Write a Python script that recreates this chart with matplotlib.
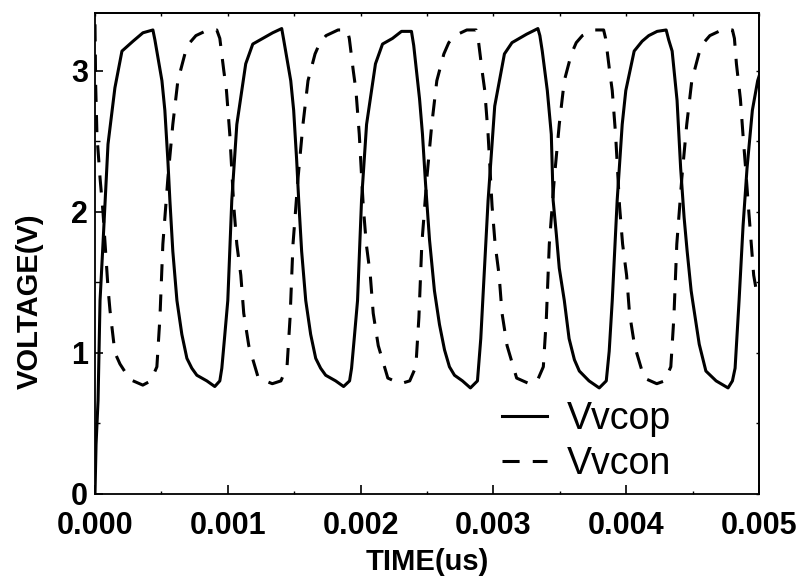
import numpy as np
import matplotlib
matplotlib.use('Agg')
import matplotlib.pyplot as plt
from matplotlib.ticker import MultipleLocator

# time values below are in units of 0.001 (axis shows TIME(us) 0.000 - 0.005)
t_vcop = [0.000, 0.008, 0.023, 0.038, 0.060, 0.098, 0.150, 0.203, 0.286, 0.361, 0.436,
          0.451, 0.504, 0.526, 0.549, 0.564, 0.586, 0.617, 0.654, 0.692, 0.729, 0.767, 0.842, 0.902,
          0.940, 0.955, 0.975, 1.000, 1.030, 1.068, 1.135, 1.188, 1.263, 1.338, 1.406,
          1.421, 1.474, 1.496, 1.519, 1.534, 1.556, 1.587, 1.624, 1.662, 1.699, 1.737, 1.812, 1.872,
          1.917, 1.932, 1.952, 1.977, 2.007, 2.045, 2.112, 2.165, 2.240, 2.308, 2.383,
          2.400, 2.444, 2.466, 2.489, 2.519, 2.556, 2.594, 2.632, 2.669, 2.707, 2.767, 2.827,
          2.880, 2.890, 2.905, 2.920, 2.960, 3.010, 3.083, 3.140, 3.250, 3.335,
          3.350, 3.368, 3.406, 3.436, 3.450, 3.474, 3.496, 3.534, 3.570, 3.610, 3.647, 3.720, 3.797,
          3.850, 3.872, 3.895, 3.932, 3.970, 3.997, 4.060, 4.120, 4.170, 4.233, 4.301,
          4.320, 4.346, 4.383, 4.410, 4.436, 4.459, 4.489, 4.500, 4.550, 4.600, 4.677, 4.767,
          4.800, 4.820, 4.850, 4.880, 4.910, 4.950, 4.990, 5.000]
v_vcop = [0.00, 0.35, 0.66, 1.37, 1.77, 2.48, 2.88, 3.14, 3.21, 3.27, 3.29,
          3.22, 2.93, 2.72, 2.36, 2.08, 1.72, 1.37, 1.13, 0.96, 0.89, 0.84, 0.80, 0.76,
          0.80, 0.89, 1.10, 1.37, 2.08, 2.62, 3.05, 3.19, 3.23, 3.27, 3.30,
          3.22, 2.93, 2.72, 2.36, 2.08, 1.72, 1.37, 1.13, 0.96, 0.89, 0.84, 0.80, 0.76,
          0.80, 0.89, 1.10, 1.37, 2.08, 2.62, 3.05, 3.19, 3.23, 3.28, 3.28,
          3.18, 2.80, 2.55, 2.20, 1.80, 1.44, 1.20, 1.02, 0.90, 0.84, 0.80, 0.75,
          0.80, 0.92, 1.10, 1.37, 2.08, 2.75, 3.12, 3.20, 3.26, 3.30,
          3.25, 3.14, 2.86, 2.55, 2.08, 1.84, 1.60, 1.37, 1.10, 0.95, 0.87, 0.80, 0.75,
          0.80, 1.01, 1.37, 2.08, 2.62, 2.86, 3.14, 3.21, 3.25, 3.28, 3.29,
          3.22, 3.14, 2.79, 2.31, 1.96, 1.72, 1.44, 1.37, 1.06, 0.87, 0.80, 0.75,
          0.80, 0.89, 1.37, 1.90, 2.31, 2.72, 2.93, 2.96]

t_vcon = [0.000, 0.005, 0.015, 0.038, 0.060, 0.098, 0.113, 0.150, 0.188, 0.263, 0.360,
          0.420, 0.466, 0.489, 0.511, 0.549, 0.586, 0.624, 0.677, 0.714, 0.760, 0.850, 0.917,
          0.940, 0.970, 0.990, 1.015, 1.030, 1.045, 1.068, 1.098, 1.120, 1.158, 1.230, 1.335,
          1.400, 1.446, 1.469, 1.491, 1.529, 1.566, 1.604, 1.657, 1.694, 1.740, 1.830, 1.900,
          1.915, 1.945, 1.965, 1.990, 2.005, 2.020, 2.043, 2.073, 2.095, 2.133, 2.205, 2.300,
          2.370, 2.416, 2.439, 2.461, 2.499, 2.536, 2.574, 2.627, 2.664, 2.710, 2.800, 2.870,
          2.885, 2.915, 2.935, 2.960, 2.975, 2.990, 3.013, 3.043, 3.065, 3.103, 3.175, 3.270,
          3.330, 3.376, 3.399, 3.421, 3.459, 3.496, 3.534, 3.587, 3.624, 3.670, 3.760, 3.830,
          3.845, 3.875, 3.895, 3.920, 3.935, 3.950, 3.973, 4.003, 4.025, 4.063, 4.135, 4.230,
          4.290, 4.336, 4.359, 4.381, 4.419, 4.456, 4.494, 4.547, 4.584, 4.630, 4.720, 4.800,
          4.815, 4.830, 4.860, 4.880, 4.900, 4.920, 4.940, 4.960, 4.980, 5.000]
v_vcon = [3.33, 2.90, 2.54, 2.24, 2.00, 1.46, 1.30, 1.00, 0.92, 0.81, 0.77,
          0.80, 0.90, 1.25, 1.77, 2.24, 2.62, 2.93, 3.12, 3.20, 3.25, 3.29, 3.29,
          3.23, 3.00, 2.86, 2.55, 2.30, 2.04, 1.77, 1.55, 1.28, 1.05, 0.82, 0.78,
          0.80, 0.90, 1.25, 1.77, 2.24, 2.62, 2.93, 3.12, 3.20, 3.25, 3.29, 3.29,
          3.23, 3.00, 2.86, 2.55, 2.30, 2.04, 1.77, 1.55, 1.28, 1.05, 0.82, 0.78,
          0.80, 0.90, 1.25, 1.77, 2.24, 2.62, 2.93, 3.12, 3.20, 3.25, 3.29, 3.29,
          3.23, 3.00, 2.86, 2.55, 2.30, 2.04, 1.77, 1.55, 1.28, 1.05, 0.82, 0.78,
          0.80, 0.90, 1.25, 1.77, 2.24, 2.62, 2.93, 3.12, 3.20, 3.25, 3.29, 3.29,
          3.23, 3.00, 2.86, 2.55, 2.30, 2.04, 1.77, 1.55, 1.28, 1.05, 0.82, 0.78,
          0.80, 0.90, 1.25, 1.77, 2.24, 2.62, 2.93, 3.12, 3.20, 3.25, 3.29, 3.29,
          3.23, 3.05, 2.80, 2.54, 2.30, 2.04, 1.80, 1.55, 1.44, 1.38]

x_ticks = [0.000, 0.001, 0.002, 0.003, 0.004, 0.005]
y_ticks = [0, 1, 2, 3]

plt.rcParams['font.family'] = ['Liberation Sans', 'DejaVu Sans']

fig = plt.figure(figsize=(8.03, 5.88), dpi=100)
ax = fig.add_axes([0.1183, 0.1605, 0.8269, 0.8173])

ax.plot(np.array(t_vcop) * 1e-3, v_vcop, color='black', lw=2.2, label='Vvcop')
ax.plot(np.array(t_vcon) * 1e-3, v_vcon, color='black', lw=2.2,
        linestyle=(0, (5.6, 4.3)), label='Vvcon')

ax.set_xlim(0, 0.005)
ax.set_ylim(0, 3.41)
ax.set_xticks(x_ticks)
ax.set_xticklabels(['%.3f' % x for x in x_ticks])
ax.set_yticks(y_ticks)
ax.xaxis.set_minor_locator(MultipleLocator(0.0005))
ax.yaxis.set_minor_locator(MultipleLocator(0.5))

for sp in ax.spines.values():
    sp.set_linewidth(1.3)

ax.tick_params(which='major', direction='in', length=6.5, width=1.2,
               labelsize=22, pad=12.5)
ax.tick_params(which='minor', direction='in', length=2.5, width=1.0)
ax.tick_params(axis='y', which='major', pad=5, length=6)
ax.tick_params(axis='y', which='minor', length=3.5)
for lab in ax.get_xticklabels() + ax.get_yticklabels():
    lab.set_fontweight('bold')

# small ticks on top and right, no labels
top = ax.secondary_xaxis('top')
top.set_xticks([])
top.xaxis.set_minor_locator(MultipleLocator(0.0005))
top.tick_params(which='minor', direction='in', length=2.5, width=1.0)
top.spines['top'].set_linewidth(1.3)
right = ax.secondary_yaxis('right')
right.set_yticks([])
right.yaxis.set_minor_locator(MultipleLocator(0.5))
right.tick_params(which='minor', direction='in', length=2.5, width=1.0)
right.spines['right'].set_linewidth(1.3)

ax.set_xlabel('TIME(us)', fontsize=21, fontweight='bold', labelpad=5)
ax.set_ylabel('VOLTAGE(V)', fontsize=21, fontweight='bold')
ax.yaxis.set_label_coords(-0.0775, 0.40)

ax.legend(loc='lower left', bbox_to_anchor=(0.602, 0.008), frameon=False,
          handlelength=1.2, handletextpad=0.53, labelspacing=0.25,
          borderpad=0.2, borderaxespad=0, prop={'size': 27})

fig.savefig('out.png', dpi=100)
